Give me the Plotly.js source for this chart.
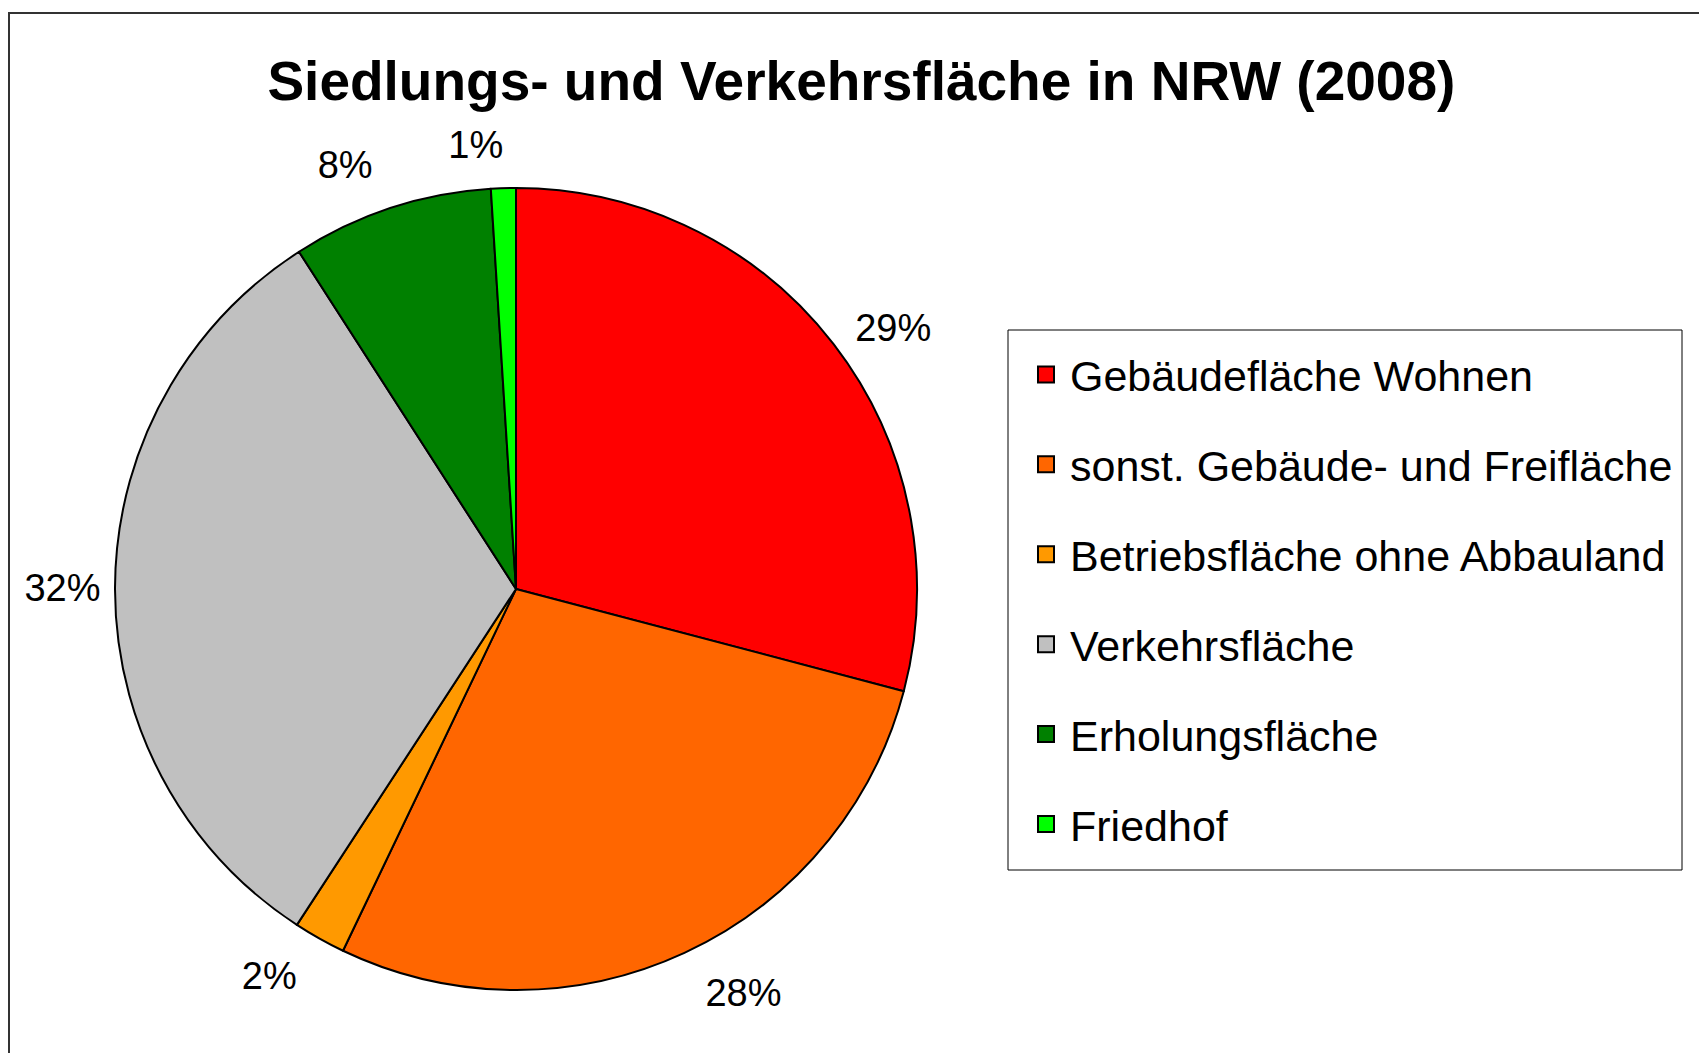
<!DOCTYPE html>
<html>
<head>
<meta charset="utf-8">
<script src="https://cdn.plot.ly/plotly-3.0.1.min.js"></script>
<style>
html,body{margin:0;padding:0;background:#fff;}
#chart{width:1699px;height:1053px;}
path.textline{stroke-opacity:0 !important;}
</style>
</head>
<body>
<div id="chart"></div>
<script>
// Data (share of settlement and traffic area, percent)
const categories = [
  "Gebäudefläche Wohnen",
  "sonst. Gebäude- und Freifläche",
  "Betriebsfläche ohne Abbauland",
  "Verkehrsfläche",
  "Erholungsfläche",
  "Friedhof"
];
const shares = [29.1, 28.0, 2.1, 31.7, 8.1, 1.0];
const colors = ["#FF0000", "#FF6600", "#FF9900", "#C0C0C0", "#008000", "#00FF00"];
const titleText = "Siedlungs- und Verkehrsfläche in NRW (2008)";

const FONT = "Liberation Sans, Arial, Helvetica, sans-serif";
const W = 1699, H = 1053;

// pie geometry (pixels) -> domain
const cx = 516, cy = 589, r = 401;
function dom(rad) {
  return {x: [(cx - rad) / W, (cx + rad) / W], y: [(H - cy - rad) / H, (H - cy + rad) / H]};
}

// transparent pies carrying the percentage labels a little further out
// (label rings: which slices each ring labels, its radius in px, small rotation nudge)
const labelRings = [
  {show: [true, false, false, false, false, false], rad: 415, rot: 0},
  {show: [false, true, true, false, true, false], rad: 426, rot: 0},
  {show: [false, false, false, true, false, false], rad: 405, rot: 0},
  {show: [false, false, false, false, false, true], rad: 423, rot: 1.5}
];
const labelPies = labelRings.map(g => ({
  type: "pie",
  labels: categories,
  values: shares,
  sort: false,
  direction: "clockwise",
  rotation: g.rot,
  marker: {colors: categories.map(() => "rgba(0,0,0,0)"), line: {width: 0}},
  textposition: g.show.map(s => s ? "outside" : "none"),
  texttemplate: "%{percent:.0%}",
  textfont: {family: FONT, size: 38, color: "#000"},
  domain: dom(g.rad),
  showlegend: false,
  hoverinfo: "skip"
}));

const pie = {
  type: "pie",
  labels: categories,
  values: shares,
  sort: false,
  direction: "clockwise",
  rotation: 0,
  marker: {colors: colors, line: {color: "#000", width: 2}},
  textinfo: "none",
  domain: dom(r),
  showlegend: false,
  hoverinfo: "label+percent"
};

// Legend entries (one per category, so the row spacing can be controlled)
const legendTraces = categories.map((c, i) => ({
  type: "scatter",
  mode: "markers",
  x: [null], y: [null],
  name: c,
  legendgroup: "g" + i,
  marker: {symbol: "square", size: 24, color: colors[i], line: {color: "#000", width: 2}},
  hoverinfo: "skip"
}));

const layout = {
  width: W, height: H,
  margin: {l: 0, r: 0, t: 0, b: 0},
  paper_bgcolor: "#fff",
  plot_bgcolor: "#fff",
  font: {family: FONT, color: "#000"},
  title: {
    text: "<b>" + titleText + "</b>",
    font: {family: FONT, size: 55, color: "#000"},
    x: 0.507, xanchor: "center",
    y: 0.923, yanchor: "middle"
  },
  xaxis: {visible: false, domain: [0.6, 0.61]},
  yaxis: {visible: false, domain: [0.6, 0.61]},
  showlegend: true,
  legend: {
    x: 1022 / W, xanchor: "left",
    y: 1 - 340 / H, yanchor: "top",
    bgcolor: "rgba(0,0,0,0)",
    borderwidth: 0,
    font: {family: FONT, size: 43, color: "#000"},
    traceorder: "grouped",
    tracegroupgap: 31,
    itemwidth: 38,
    itemclick: false, itemdoubleclick: false
  },
  shapes: [
    {
      type: "rect", xref: "paper", yref: "paper",
      x0: 9 / W, x1: 1.05, y0: -0.05, y1: 1 - 13 / H,
      line: {color: "#333", width: 2}, fillcolor: "rgba(0,0,0,0)", layer: "below"
    },
    {
      type: "rect", xref: "paper", yref: "paper",
      x0: 1008 / W, x1: 1682 / W, y0: 1 - 870 / H, y1: 1 - 330 / H,
      line: {color: "#000", width: 1}, fillcolor: "#fff", layer: "below"
    }
  ]
};

Plotly.newPlot("chart", labelPies.concat([pie], legendTraces), layout, {displayModeBar: false, staticPlot: true});
</script>
</body>
</html>
